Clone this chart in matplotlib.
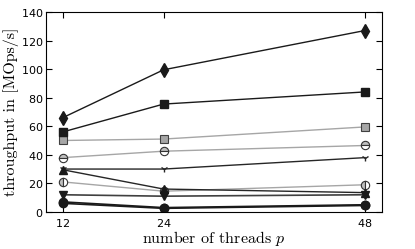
import numpy as np
import matplotlib
matplotlib.use("Agg")
import matplotlib.pyplot as plt

plt.rcParams['mathtext.fontset'] = 'cm'
plt.rcParams['axes.formatter.use_mathtext'] = True

threads = [12, 24, 48]

# series values (MOps/s)
diamond_black = [66, 99.5, 127]
square_black = [56, 75.5, 84]
square_gray = [50, 51, 59.5]
circle_hhalf = [38, 42.5, 46.5]
tri_black = [30, 30, 38]
up_black = [29.5, 16, 13.5]
circle_vhalf = [21, 14.5, 19]
down_black = [12, 11, 12]
circle_black = [7, 3, 5]
circle_black2 = [6, 2.5, 4.5]

fig = plt.figure(figsize=(4.15, 2.49), dpi=100)
ax = fig.add_axes([0.111, 0.149, 0.809, 0.803])

ax.plot(threads, circle_vhalf, color='0.65', lw=1, marker='o', ms=6,
        fillstyle='left', mfc='0.75', mfcalt='white', mec='0.2', mew=0.8)
ax.plot(threads, circle_hhalf, color='0.65', lw=1, marker='o', ms=6,
        fillstyle='top', mfc='0.75', mfcalt='white', mec='0.2', mew=0.8)
ax.plot(threads, square_gray, color='0.65', lw=1, marker='s', ms=6,
        mfc='0.65', mec='0.25', mew=0.8)
ax.plot(threads, tri_black, color='0.15', lw=1, marker='1', ms=5, mec='0.15')
ax.plot(threads, up_black, color='0.15', lw=1, marker='^', ms=6, mfc='0.1', mec='0.1')
ax.plot(threads, down_black, color='0.25', lw=1.2, marker='v', ms=6, mfc='0.1', mec='0.1')
ax.plot(threads, circle_black2, color='0.1', lw=1.2, marker='o', ms=6, mfc='0.1', mec='0.1')
ax.plot(threads, circle_black, color='0.1', lw=1.2, marker='o', ms=6, mfc='0.1', mec='0.1')
ax.plot(threads, square_black, color='0.1', lw=1, marker='s', ms=6, mfc='0.1', mec='0.1')
ax.plot(threads, diamond_black, color='0.1', lw=1, marker='d', ms=7, mfc='0.1', mec='0.1')

ax.set_xlim(10, 50)
ax.set_ylim(0, 140)
ax.set_xticks(threads)
ax.set_yticks(np.arange(0, 141, 20))
ax.tick_params(direction='in', top=True, right=True, labelsize=8, length=4)
ax.tick_params(axis='y', pad=2)
ax.tick_params(axis='x', pad=4)

lab = dict(family='cmr10', fontsize=11.5)
ax.set_xlabel(r'number of threads $p$', labelpad=0, **lab)
ax.set_ylabel('throughput in [MOps/s]', labelpad=1, **lab)

fig.savefig('out.png', dpi=100)
